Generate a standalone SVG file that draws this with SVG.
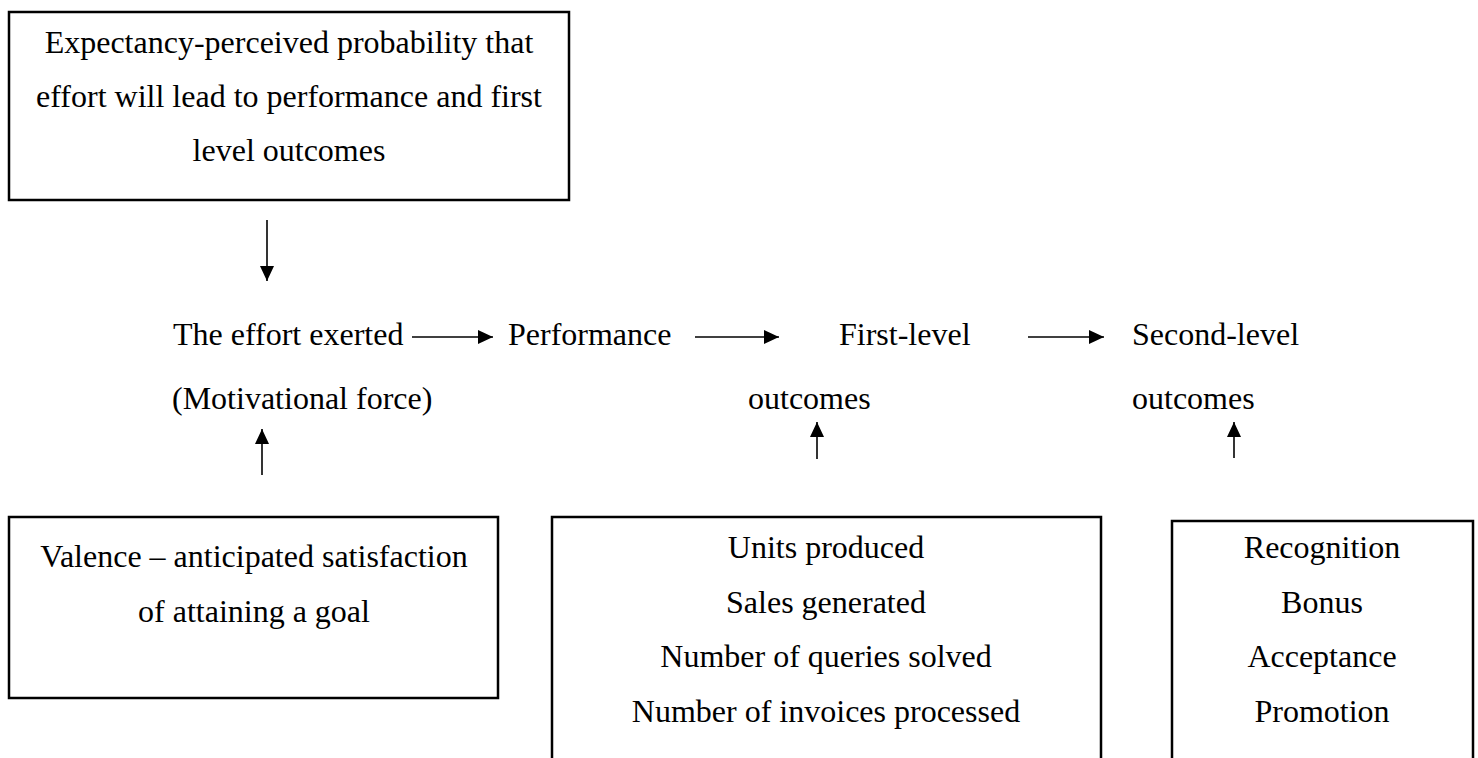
<svg xmlns="http://www.w3.org/2000/svg" width="1478" height="758" viewBox="0 0 1478 758">
  <style>
    text { font-family: "Liberation Serif", "Times New Roman", serif; font-size: 32px; fill: #000; }
    .c { text-anchor: middle; }
    .box { fill: #fff; stroke: #000; stroke-width: 2.5; }
    .arrow { stroke: #000; stroke-width: 1.6; fill: none; marker-end: url(#head); }
  </style>
  <defs>
    <marker id="head" markerUnits="userSpaceOnUse" markerWidth="16" markerHeight="16" viewBox="0 0 16 16" refX="15" refY="8" orient="auto">
      <path d="M0,1 L15,8 L0,15 Z" fill="#000"/>
    </marker>
  </defs>
  <rect width="1478" height="758" fill="#fff"/>

  <!-- Expectancy box -->
  <g id="expectancy">
    <rect class="box" x="9" y="12" width="560" height="188"/>
    <text class="c" x="289" y="53">Expectancy-perceived probability that</text>
    <text class="c" x="289" y="107">effort will lead to performance and first</text>
    <text class="c" x="289" y="161">level outcomes</text>
  </g>

  <!-- Main chain -->
  <g id="effort">
    <text x="173" y="345">The effort exerted</text>
    <text x="172" y="409">(Motivational force)</text>
  </g>
  <g id="performance">
    <text x="508" y="345">Performance</text>
  </g>
  <g id="first-level">
    <text x="839" y="345">First-level</text>
    <text x="748" y="409">outcomes</text>
  </g>
  <g id="second-level">
    <text x="1132" y="345">Second-level</text>
    <text x="1132" y="409">outcomes</text>
  </g>

  <!-- Valence box -->
  <g id="valence">
    <rect class="box" x="9" y="517" width="489" height="181"/>
    <text class="c" x="254" y="567">Valence – anticipated satisfaction</text>
    <text class="c" x="254" y="622">of attaining a goal</text>
  </g>

  <!-- First-level examples (runs past the bottom edge) -->
  <g id="first-level-examples">
    <rect class="box" x="552" y="517" width="549" height="260"/>
    <text class="c" x="826" y="558">Units produced</text>
    <text class="c" x="826" y="613">Sales generated</text>
    <text class="c" x="826" y="667">Number of queries solved</text>
    <text class="c" x="826" y="722">Number of invoices processed</text>
  </g>

  <!-- Second-level examples (runs past the bottom edge) -->
  <g id="second-level-examples">
    <rect class="box" x="1172" y="521" width="301" height="260"/>
    <text class="c" x="1322" y="558">Recognition</text>
    <text class="c" x="1322" y="613">Bonus</text>
    <text class="c" x="1322" y="667">Acceptance</text>
    <text class="c" x="1322" y="722">Promotion</text>
  </g>

  <!-- Connectors -->
  <g id="connectors">
    <line class="arrow" x1="267" y1="220" x2="267" y2="281"/>
    <line class="arrow" x1="412" y1="337" x2="493" y2="337"/>
    <line class="arrow" x1="695" y1="337" x2="779" y2="337"/>
    <line class="arrow" x1="1028" y1="337" x2="1104" y2="337"/>
    <line class="arrow" x1="262" y1="475" x2="262" y2="429"/>
    <line class="arrow" x1="817" y1="459" x2="817" y2="422"/>
    <line class="arrow" x1="1234" y1="458" x2="1234" y2="422"/>
  </g>
</svg>
